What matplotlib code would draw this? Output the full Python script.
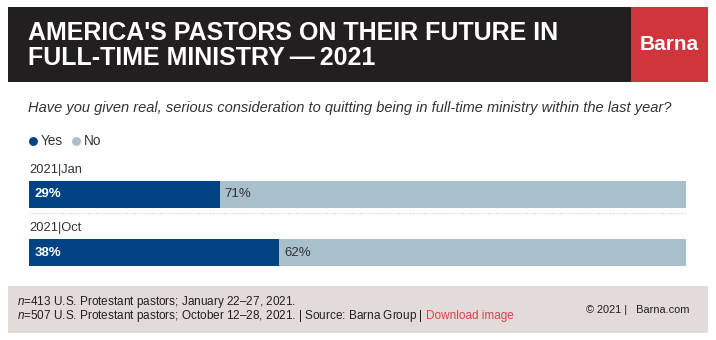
import matplotlib
matplotlib.use("Agg")
import matplotlib.pyplot as plt
from matplotlib.patches import Rectangle

title_lines = ["AMERICA'S PASTORS ON THEIR FUTURE IN", "FULL-TIME MINISTRY\u2009\u2014\u20092021"]
question = "Have you given real, serious consideration to quitting being in full-time ministry within the last year?"
categories = ["2021|Jan", "2021|Oct"]
yes_values = [29, 38]
no_values = [71, 62]
series_names = ["Yes", "No"]

DARK = "#231f20"
RED = "#d0353b"
YES_C = "#004383"
NO_C = "#a8bfcc"
FOOT_BG = "#e2dbda"
TXT = "#333333"

plt.rcParams['font.family'] = ['Liberation Sans', 'DejaVu Sans']
plt.rcParams['mathtext.fontset'] = 'custom'
plt.rcParams['mathtext.it'] = 'Liberation Sans:italic'
plt.rcParams['mathtext.rm'] = 'Liberation Sans'

W, H = 716, 340
fig = plt.figure(figsize=(W / 100, H / 100), dpi=100)
bg = fig.add_axes([0, 0, 1, 1])
bg.set_xlim(0, W)
bg.set_ylim(H, 0)
bg.axis('off')

# header
bg.add_patch(Rectangle((8, 7), 623, 75, color=DARK, lw=0))
bg.add_patch(Rectangle((631, 7), 77, 75, color=RED, lw=0))
bg.text(28, 33, title_lines[0], color='white', fontsize=18, fontweight='bold', va='center', ha='left')
bg.text(28, 58, title_lines[1], color='white', fontsize=18, fontweight='bold', va='center', ha='left')
bg.text(669.5, 45, "Barna", color='white', fontsize=15, fontweight='bold', va='center', ha='center')

# question
bg.text(28, 108, question, color=TXT, fontsize=10.5, style='italic', va='center', ha='left')

# legend
bg.plot([33], [141], 'o', color=YES_C, ms=6.4, mew=0)
bg.text(40.5, 141, series_names[0], color=TXT, fontsize=9.8, va='center', ha='left')
bg.plot([76], [141], 'o', color=NO_C, ms=6.4, mew=0)
bg.text(84, 141, series_names[1], color=TXT, fontsize=9.8, va='center', ha='left')

# footer
bg.add_patch(Rectangle((8, 286), 700, 47, color=FOOT_BG, lw=0))
fs = 8.5
bg.text(17, 301.5, "$\\it{n}$=413 U.S. Protestant pastors; January 22\u201327, 2021.",
        color=DARK, fontsize=fs, va='center', ha='left')
t = bg.text(17, 316, "$\\it{n}$=507 U.S. Protestant pastors; October 12\u201328, 2021. | Source: Barna Group |",
            color=DARK, fontsize=fs, va='center', ha='left')
fig.canvas.draw()
inv = bg.transData.inverted()
x_end = inv.transform((t.get_window_extent().x1, 0))[0]
bg.text(x_end + 3, 316, "Download image", color="#d9434b", fontsize=fs, va='center', ha='left')
bg.text(690, 310, "\u00a9 2021 |   Barna.com", color=DARK, fontsize=7.9, va='center', ha='right')

# bars axes: x from 29 to 686 px, y from 160 to 280 px
x0, x1 = 29, 686
y_top, y_bot = 160, 280
ax = fig.add_axes([x0 / W, 1 - y_bot / H, (x1 - x0) / W, (y_bot - y_top) / H])
unit = 58.0
c0 = 194.5
ax.set_ylim((y_bot - c0) / unit, (y_top - c0) / unit)
ax.set_xlim(0, 100)
ax.axis('off')
pos = list(range(len(categories)))
bh = 27 / unit
ax.barh(pos, yes_values, height=bh, color=YES_C, lw=0)
ax.barh(pos, no_values, left=yes_values, height=bh, color=NO_C, lw=0)
for i, (cat, y, n) in enumerate(zip(categories, yes_values, no_values)):
    ax.text(0, i - 24.5 / unit, cat, color=TXT, fontsize=9.3, va='center', ha='left')
    ax.text(0.8, i, f"{y}%", color='white', fontsize=9.5, fontweight='bold', va='center', ha='left')
    ax.text(y + 0.8, i, f"{n}%", color=TXT, fontsize=9.5, va='center', ha='left')
    if i < len(categories) - 1:
        ax.plot([0, 100], [i + 18.5 / unit] * 2, color='#cccccc', lw=0.8, ls=(0, (1, 1.5)))

fig.savefig("out.png", dpi=100)
